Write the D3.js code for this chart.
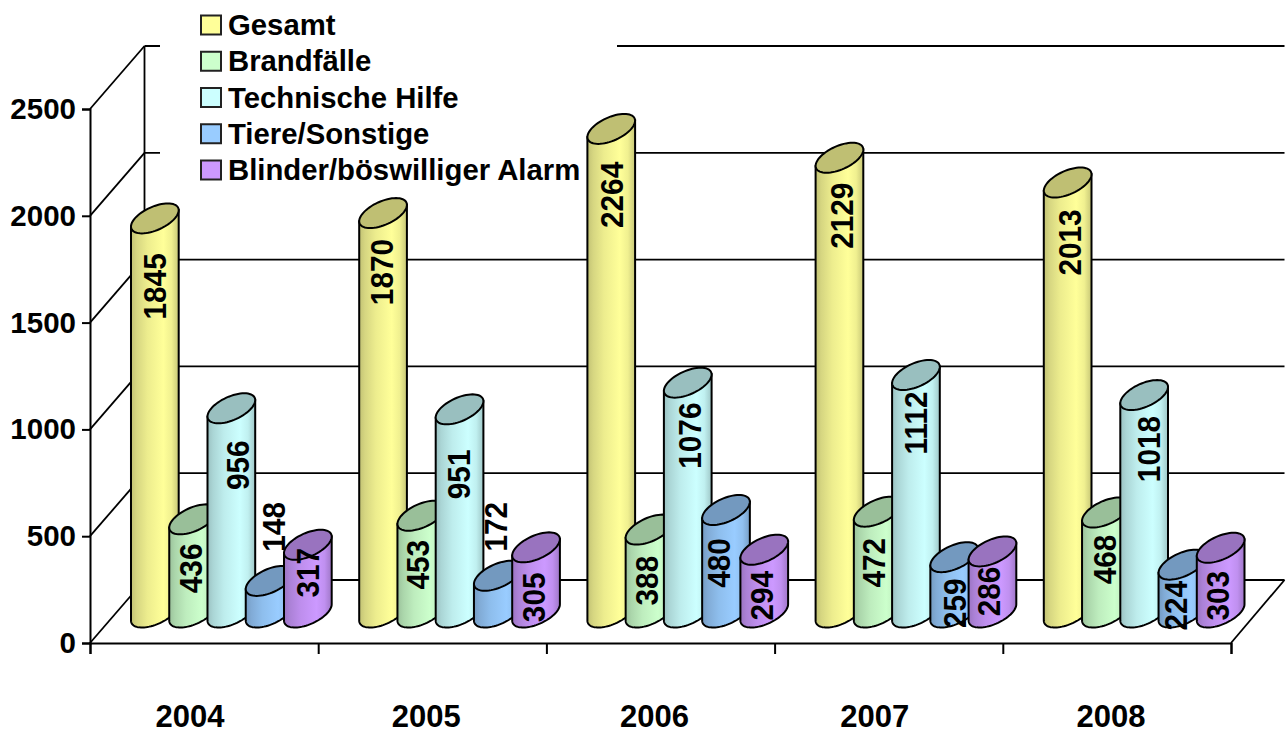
<!DOCTYPE html>
<head>
    <meta charset="utf-8">
    <script src="https://d3js.org/d3.v7.min.js"></script>
    <style>
      html, body { margin: 0; background: #fff; }
      svg { display: block; }
      text { font-family: "Liberation Sans", Arial, sans-serif; font-weight: bold; fill: #000; }
      .axis text { font-size: 29.5px; }
      .catlabel { font-size: 31px; }
      .barlabel { font-size: 32px; }
      .legendlabel { font-size: 29.3px; }
    </style>
<body>
    <script>
        var years = ["2004","2005","2006","2007","2008"]
        var seriesNames = ["Gesamt","Brandfälle","Technische Hilfe","Tiere/Sonstige","Blinder/böswilliger Alarm"]
        var seriesColors = ["#ffff99","#ccffcc","#ccffff","#99ccff","#cc99ff"]
        var gesamt = [1845,1870,2264,2129,2013]
        var brand = [436,453,388,472,468]
        var technik = [956,951,1076,1112,1018]
        var tiere = [148,172,480,259,224]
        var alarm = [317,305,294,286,303]
        var yTicks = [0,500,1000,1500,2000,2500]

        // labels were placed by hand in the original: px from the bar's top centre, one row per year
        var labelDy = [
          [68,49,57,-54,28],
          [59,49,65,-49,50],
          [66,51,53,53,46],
          [58,51,48,46,40],
          [60,47,54,41,48]
        ]
        var labelDx = [
          [0,-2.5,6,4,0],
          [-2,-3.5,-1,-2.5,-3],
          [0,-3,2,-7,-3],
          [2,-4.5,0,0,-4],
          [2,-1,4.5,-6.5,-3.5]
        ]
        var catNudge = [-14,-6,-6,-14,-6]

        var values = [gesamt,brand,technik,tiere,alarm]
        var w = 1286, h = 734
        var depthX = 54.5, depthY = 63
        var rx = 20, shearX = 13, ry = 15

        var svg = d3.select("body").append("svg").attr("width", w).attr("height", h)

        var x = d3.scaleBand().domain(years).range([90,1231])
        var inner = d3.scalePoint().domain(seriesNames).range([-76.5,76.5])
        var y = d3.scaleLinear().domain([0,2500]).range([643,109])

        // gradients, dark at the left and right edge, light at about 2/3
        var defs = svg.append("defs")
        seriesColors.forEach(function(c,i){
          var g = defs.append("linearGradient").attr("id","cyl"+i)
          var shade = [[0,0.76],[0.12,0.84],[0.35,0.93],[0.68,1],[0.85,0.94],[1,0.78]]
          shade.forEach(function(s){
            var col = d3.rgb(c)
            g.append("stop").attr("offset", s[0])
              .attr("stop-color", d3.rgb(col.r*s[1],col.g*s[1],col.b*s[1]))
          })
        })

        // WALLS AND GRID
        var grid = svg.append("g").attr("fill","none").attr("stroke","#000").attr("stroke-width",1.8)
        yTicks.forEach(function(t){
          grid.append("line").attr("x1",90).attr("y1",y(t))
            .attr("x2",90+depthX).attr("y2",y(t)-depthY)
          grid.append("line").attr("x1",90+depthX).attr("y1",y(t)-depthY)
            .attr("x2",1231+depthX-1).attr("y2",y(t)-depthY)
        })
        grid.append("line").attr("x1",90+depthX).attr("y1",y(0)-depthY)
          .attr("x2",90+depthX).attr("y2",y(2500)-depthY)
        grid.append("line").attr("x1",1231).attr("y1",y(0))
          .attr("x2",1231+depthX-1).attr("y2",y(0)-depthY)

        // legend sits on a white box that hides the grid behind it
        svg.append("rect").attr("x",160).attr("y",0).attr("width",457).attr("height",190).attr("fill","#fff")

        var yAxis = d3.axisLeft(y).tickValues(yTicks).tickSize(8).tickPadding(6).tickFormat(d3.format("d"))
        var xAxis = d3.axisBottom(d3.scalePoint().domain(d3.range(6)).range([90,1231])).tickSize(11).tickFormat("")
        svg.append("g").attr("class","axis").attr("transform","translate(90,0)").call(yAxis)
        svg.append("g").attr("class","axis").attr("transform","translate(0,643)").call(xAxis)
        svg.selectAll(".axis path, .axis line").attr("stroke","#000").attr("stroke-width",2)
        svg.selectAll(".axis .tick text").attr("fill","#000")

        svg.selectAll(".catlabel").data(years).enter().append("text")
          .attr("class","catlabel")
          .attr("text-anchor","middle")
          .attr("x",function(d,i){return x(d)+x.bandwidth()/2+catNudge[i]})
          .attr("y",727)
          .text(function(d){return d})

        function cylinderPath(cx, yTop, yBase){
          var t0 = Math.atan2(shearX,rx)
          function pt(cy,t){
            return [cx+rx*Math.cos(t)+shearX*Math.sin(t), cy-ry*Math.sin(t)]
          }
          var pts = []
          // down the left edge, round the front of the base, up the right edge
          d3.range(0,41).forEach(function(k){
            pts.push(pt(yBase, t0+Math.PI+k/40*Math.PI))
          })
          var bottom = d3.line()(pts)
          var right = pt(yTop,t0), left = pt(yTop,t0+Math.PI)
          return bottom+"L"+right+"L"+left+"Z"
        }
        function topPath(cx, yTop){
          var pts = d3.range(0,64).map(function(k){
            var t = k/64*2*Math.PI
            return [cx+rx*Math.cos(t)+shearX*Math.sin(t), yTop-ry*Math.sin(t)]
          })
          return d3.line()(pts)+"Z"
        }

        // BARS
        var bars = svg.append("g")
        years.forEach(function(yr,yi){
          seriesNames.forEach(function(s,si){
            var v = values[si][yi]
            var cx = x(yr)+x.bandwidth()/2+inner(s)+depthX/2
            var yBase = y(0)-depthY/2+1
            var yTop = y(v)-depthY/2+1
            bars.append("path").attr("d",cylinderPath(cx,yTop,yBase))
              .attr("fill","url(#cyl"+si+")").attr("stroke","#000").attr("stroke-width",2)
            var top = d3.rgb(seriesColors[si])
            bars.append("path").attr("d",topPath(cx,yTop))
              .attr("fill",d3.rgb(top.r*0.75,top.g*0.75,top.b*0.75)).attr("stroke","#000").attr("stroke-width",2)
          })
        })

        // BAR LABELS
        years.forEach(function(yr,yi){
          seriesNames.forEach(function(s,si){
            var v = values[si][yi]
            var cx = x(yr)+x.bandwidth()/2+inner(s)+depthX/2+labelDx[yi][si]
            var ly = y(v)-depthY/2+1+labelDy[yi][si]
            svg.append("text").attr("class","barlabel")
              .attr("text-anchor","middle")
              .attr("dy","0.358em")
              .attr("transform","translate("+cx+","+ly+") rotate(-90) scale(0.93,1)")
              .text(v)
          })
        })

        // LEGEND
        var legendY = d3.scalePoint().domain(seriesNames).range([25,170])
        var legend = svg.append("g")
        legend.selectAll("rect").data(seriesNames).enter().append("rect")
          .attr("x",201).attr("y",function(d){return legendY(d)-9.5})
          .attr("width",20).attr("height",19)
          .attr("fill",function(d,i){return seriesColors[i]})
          .attr("stroke","#222").attr("stroke-width",2)
        legend.selectAll("text").data(seriesNames).enter().append("text")
          .attr("class","legendlabel")
          .attr("x",228).attr("y",function(d){return legendY(d)+10})
          .text(function(d){return d})
    </script>
</body>
